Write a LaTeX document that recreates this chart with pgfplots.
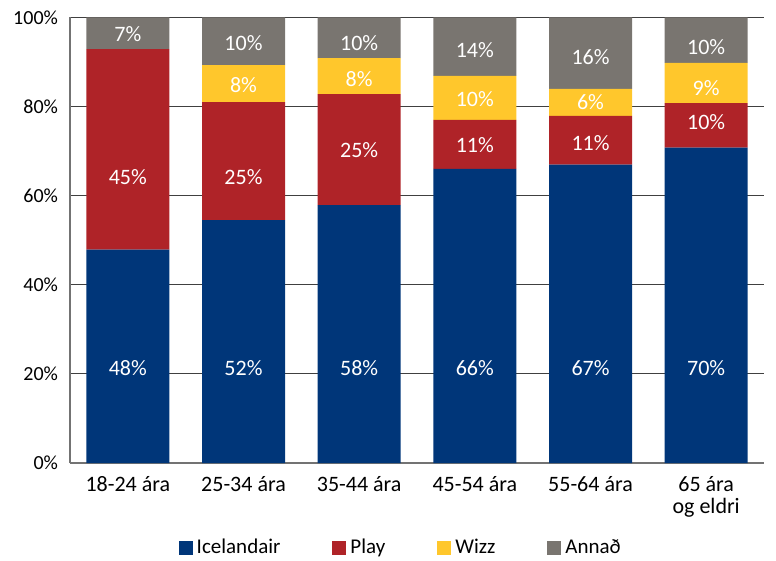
\documentclass[border=0pt]{standalone}
\usepackage{fontspec}
\setmainfont{Carlito}
\usepackage{pgfplots}
\pgfplotsset{compat=1.18}
\usepackage{pgfplotstable}
\definecolor{iceblue}{RGB}{0,54,121}
\definecolor{playred}{RGB}{175,35,40}
\definecolor{wizzyel}{RGB}{255,199,44}
\definecolor{othgrey}{RGB}{121,117,112}

% bar heights (share of each age group, stacked to 100)
\pgfplotstableread{
x  ice  play wizz other
0 47.9 45.0 0.0  7.1
1 54.5 26.5 8.3 10.7
2 57.9 24.9 8.1  9.1
3 66.0 11.0 9.9 13.1
4 67.0 10.9 6.1 16.0
5 70.8 10.0 9.0 10.2
}\shares

% printed labels and where they sit
\pgfplotstableread{
x y l
0 21.3 48
0 64.2 45
0 96.2 7
1 21.3 52
1 64.2 25
1 84.8 8
1 94.3 10
2 21.3 58
2 70.3 25
2 86.2 8
2 94.3 10
3 21.3 66
3 71.4 11
3 81.7 10
3 92.7 14
4 21.3 67
4 71.9 11
4 80.9 6
4 91.2 16
5 21.3 70
5 76.6 10
5 84.1 9
5 93.4 10
}\labels

\pgfplotsset{
  base/.style={
    width=347pt, height=222.75pt, scale only axis,
    xmin=-0.5, xmax=5.5, ymin=0, ymax=100,
    enlargelimits=false,
    /pgf/number format/assume math mode=true,
  },
  sq/.style={legend image code/.code={\fill[##1] (0pt,-3.5pt) rectangle (7pt,3.5pt);}},
}

\begin{document}
\begin{tikzpicture}
\begin{pgfinterruptboundingbox}
\begin{axis}[
  base, name=main,
  ybar stacked, bar width=41.5pt,
  axis x line*=bottom, axis y line*=left,
  axis line style={black!55, line width=1pt},
  ymajorgrids, grid style={black!75, line width=0.5pt},
  major tick length=0pt,
  ytick={0,20,...,100},
  yticklabel={\pgfmathprintnumber{\tick}\%},
  yticklabel style={font=\fontsize{10}{12}\selectfont, xshift=-2.5pt},
  xtick={0,...,5},
  xticklabels={18-24 ára, 25-34 ára, 35-44 ára, 45-54 ára, 55-64 ára, {65 ára\\og eldri}},
  xticklabel style={font=\fontsize{11}{11}\selectfont, align=center, yshift=-3pt},
  legend style={at={(0.478,-0.191)}, anchor=center, draw=none,
    font=\fontsize{10.5}{12}\selectfont, legend columns=4,
    /tikz/every even column/.append style={column sep=24pt}},
]
\addplot[fill=iceblue, draw=none, sq] table[x=x, y=ice] {\shares};
\addlegendentry{Icelandair}
\addplot[fill=playred, draw=none, sq] table[x=x, y=play] {\shares};
\addlegendentry{Play}
\addplot[fill=wizzyel, draw=none, sq] table[x=x, y=wizz] {\shares};
\addlegendentry{Wizz}
\addplot[fill=othgrey, draw=none, sq] table[x=x, y=other] {\shares};
\addlegendentry{Annað}
\end{axis}

\begin{axis}[base, hide axis]
\addplot[draw=none, mark=none, point meta=explicit,
  nodes near coords={\pgfmathprintnumber{\pgfplotspointmeta}\%},
  every node near coord/.style={anchor=center, text=white,
    font=\fontsize{11}{13}\selectfont}]
  table[x=x, y=y, meta=l] {\labels};
\end{axis}
\end{pgfinterruptboundingbox}
\path ([xshift=-35pt, yshift=-48.5pt]main.south west)
  rectangle ([xshift=6pt, yshift=8.75pt]main.north east);
\end{tikzpicture}
\end{document}
